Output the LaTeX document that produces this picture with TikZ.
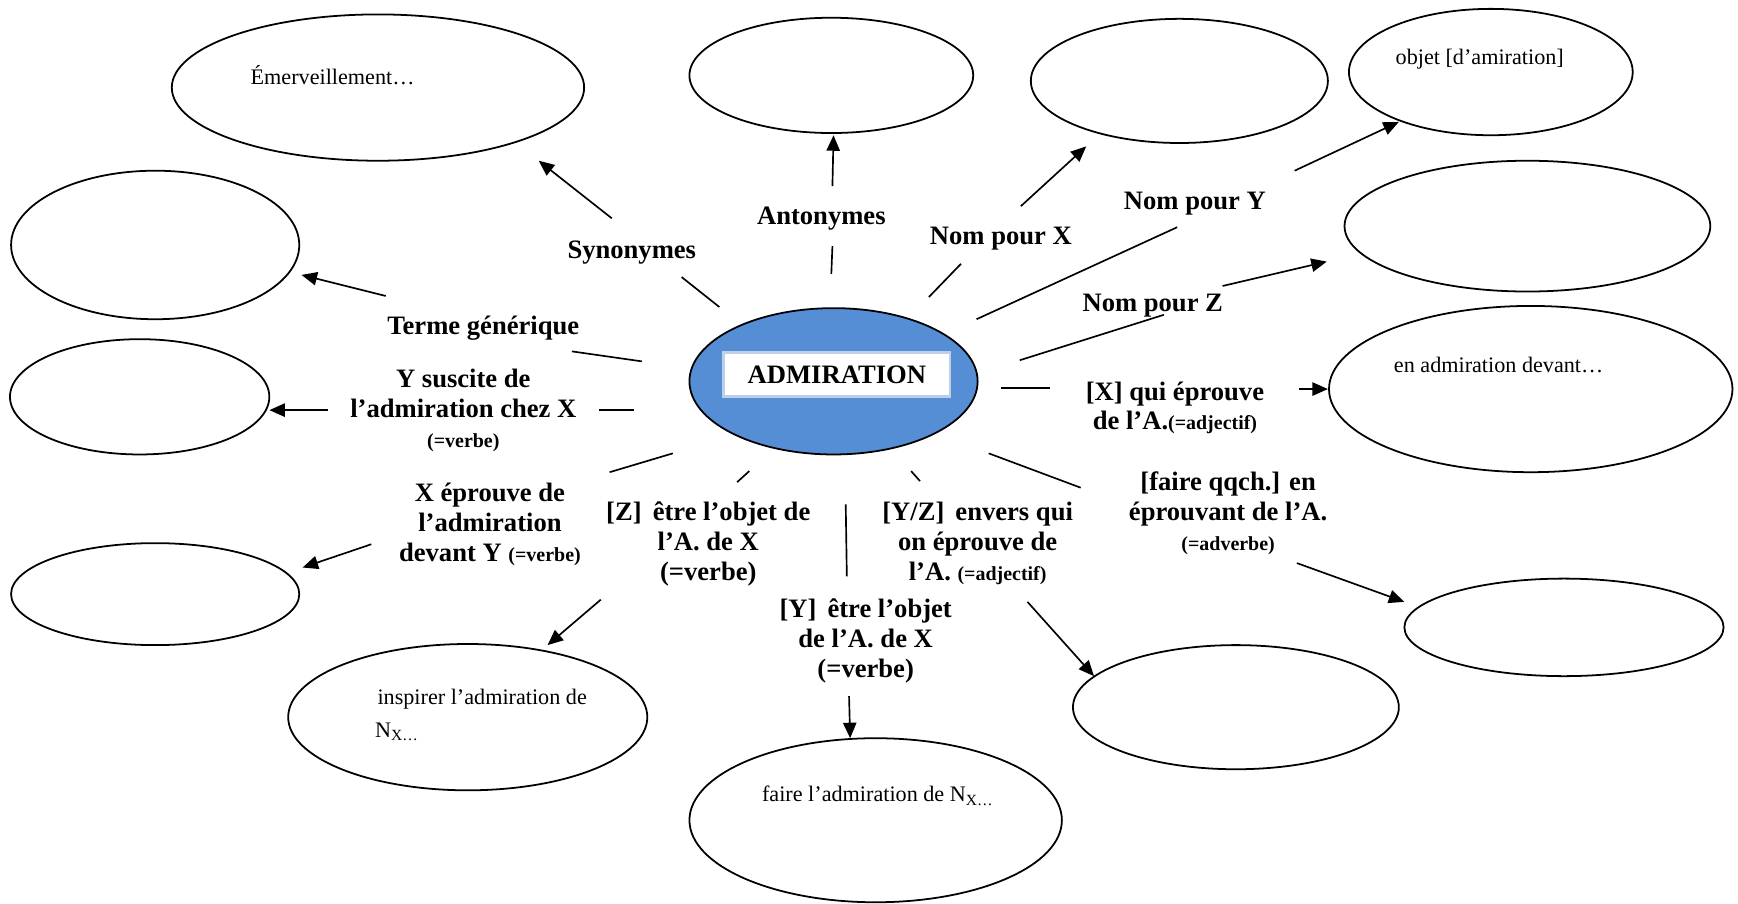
\documentclass[tikz,border=0pt]{standalone}
\usepackage{fontspec}
\setmainfont{Liberation Serif}
\usetikzlibrary{shapes.geometric,arrows.meta}
\definecolor{admblue}{RGB}{85,142,213}
\definecolor{admframe}{RGB}{190,208,232}
\newcommand{\smallbf}{\fontsize{9}{10}\selectfont}

\begin{document}
\begin{tikzpicture}[x=0.5pt,y=-0.5pt,
  bubble/.style={ellipse,draw,line width=0.8pt,inner sep=0pt},
  lbl/.style={font=\fontsize{12}{13.5}\selectfont\bfseries,align=center,inner sep=0pt,yshift=-1.5pt},
  note/.style={font=\fontsize{10}{12}\selectfont,inner sep=0pt},
  link/.style={line width=0.75pt},
  arr/.style={line width=0.75pt,-{Triangle[length=7pt,width=6pt]}},
]
\useasboundingbox (0,0) rectangle (1568,815);

% --- central concept
\node[bubble,fill=admblue,minimum width=130pt,minimum height=66pt] (adm) at (752,344) {};
\node[draw=admframe,line width=1.2pt,fill=white,minimum width=102pt,minimum height=20pt,
      font=\fontsize{12}{13.5}\selectfont\bfseries] (admlbl) at (755,338) {ADMIRATION};

% --- surrounding bubbles
\node[bubble,minimum width=186pt,minimum height=66pt] (syn)  at (341,79)  {};
\node[bubble,minimum width=128pt,minimum height=52pt] (ant)  at (750,68)  {};
\node[bubble,minimum width=134pt,minimum height=56pt] (nx)   at (1064,73) {};
\node[bubble,minimum width=128pt,minimum height=57pt] (ny)   at (1345,65) {};
\node[bubble,minimum width=130pt,minimum height=67pt] (gen)  at (140,221) {};
\node[bubble,minimum width=165pt,minimum height=59pt] (nz)   at (1378,204) {};
\node[bubble,minimum width=117pt,minimum height=52pt] (sus)  at (126,358) {};
\node[bubble,minimum width=182pt,minimum height=75pt] (qui)  at (1381,351) {};
\node[bubble,minimum width=130pt,minimum height=46pt] (epr)  at (140,536) {};
\node[bubble,minimum width=144pt,minimum height=44pt] (adv)  at (1411,566) {};
\node[bubble,minimum width=162pt,minimum height=66pt] (insp) at (422,647) {};
\node[bubble,minimum width=168pt,minimum height=74pt] (fair) at (790,740) {};
\node[bubble,minimum width=147pt,minimum height=56pt] (env)  at (1115,638) {};

% --- texts inside bubbles
\node[note] (tsyn)  at (300,68)   {Émerveillement…};
\node[note] (tny)   at (1335,53)  {objet [d’amiration]};
\node[note] (tqui)  at (1352,329) {en admiration devant…};
\node[note] (tinsp) at (435,631)  {inspirer l’admiration de};
\node[note,anchor=west] (tinsp2) at (338,660) {N\textsubscript{X…}};
\node[note] (tfair) at (792,718)  {faire l’admiration de N\textsubscript{X…}};

% --- relation labels
\node[lbl] (lsyn) at (570,225) {Synonymes};
\node[lbl] (lant) at (741,194) {Antonymes};
\node[lbl] (lnx)  at (903,212) {Nom pour X};
\node[lbl] (lny)  at (1078,181) {Nom pour Y};
\node[lbl] (lnz)  at (1040,273) {Nom pour Z};
\node[lbl] (lgen) at (436,293) {Terme générique};
\node[lbl] (lsus) at (418,367) {Y suscite de\\l’admiration chez X\\{\smallbf(=verbe)}};
\node[lbl] (lepr) at (442,470) {X éprouve de\\l’admiration\\devant Y {\smallbf(=verbe)}};
\node[lbl] (lz)   at (639,488) {[Z]\, être l’objet de\\l’A. de X\\(=verbe)};
\node[lbl] (ly)   at (781,575) {[Y]\, être l’objet\\de l’A. de X\\(=verbe)};
\node[lbl] (lenv) at (882,487) {[Y/Z]\, envers qui\\on éprouve de\\l’A. {\smallbf(=adjectif)}};
\node[lbl] (lqui) at (1060,365) {[X] qui éprouve\\de l’A.{\smallbf(=adjectif)}};
\node[lbl] (ladv) at (1108,460) {[faire qqch.] en\\éprouvant de l’A.\\{\smallbf(=adverbe)}};

% --- connector end points
\coordinate (a1) at (649,277);  \coordinate (a2) at (615,250);
\coordinate (a3) at (552,197);  \coordinate (a4) at (486,145);
\coordinate (b1) at (750,247);  \coordinate (b2) at (751,222);
\coordinate (b3) at (751,168);  \coordinate (b4) at (752,122);
\coordinate (c1) at (838,268);  \coordinate (c2) at (867,238);
\coordinate (c3) at (921,186);  \coordinate (c4) at (980,132);
\coordinate (d1) at (881,288);  \coordinate (d2) at (1062,205);
\coordinate (d3) at (1168,154); \coordinate (d4) at (1262,110);
\coordinate (e1) at (920,325);  \coordinate (e2) at (1050,284);
\coordinate (e3) at (1103,258); \coordinate (e4) at (1197,236);
\coordinate (f1) at (903,350);  \coordinate (f2) at (947,350);
\coordinate (f3) at (1172,351); \coordinate (f4) at (1198,351);
\coordinate (g1) at (892,409);  \coordinate (g2) at (975,440);
\coordinate (g3) at (1170,508); \coordinate (g4) at (1267,543);
\coordinate (h1) at (822,425);  \coordinate (h2) at (830,434);
\coordinate (h3) at (927,543);  \coordinate (h4) at (987,610);
\coordinate (i1) at (763,455);  \coordinate (i2) at (764,520);
\coordinate (i3) at (766,628);  \coordinate (i4) at (767,666);
\coordinate (j1) at (676,425);  \coordinate (j2) at (665,435);
\coordinate (j3) at (542,541);  \coordinate (j4) at (494,582);
\coordinate (k1) at (607,409);  \coordinate (k2) at (550,426);
\coordinate (k3) at (335,491);  \coordinate (k4) at (273,512);
\coordinate (l1) at (572,370);  \coordinate (l2) at (540,370);
\coordinate (l3) at (296,370);  \coordinate (l4) at (243,370);
\coordinate (m1) at (579,326);  \coordinate (m2) at (516,317);
\coordinate (m3) at (348,267);  \coordinate (m4) at (272,248);

% --- connectors: a plain stroke from the centre, an arrow towards each bubble
\foreach \p in {a,b,c,d,e,f,g,h,i,j,k,l,m}{
  \draw[link] (\p1) -- (\p2);
  \draw[arr]  (\p3) -- (\p4);
}
\end{tikzpicture}
\end{document}
